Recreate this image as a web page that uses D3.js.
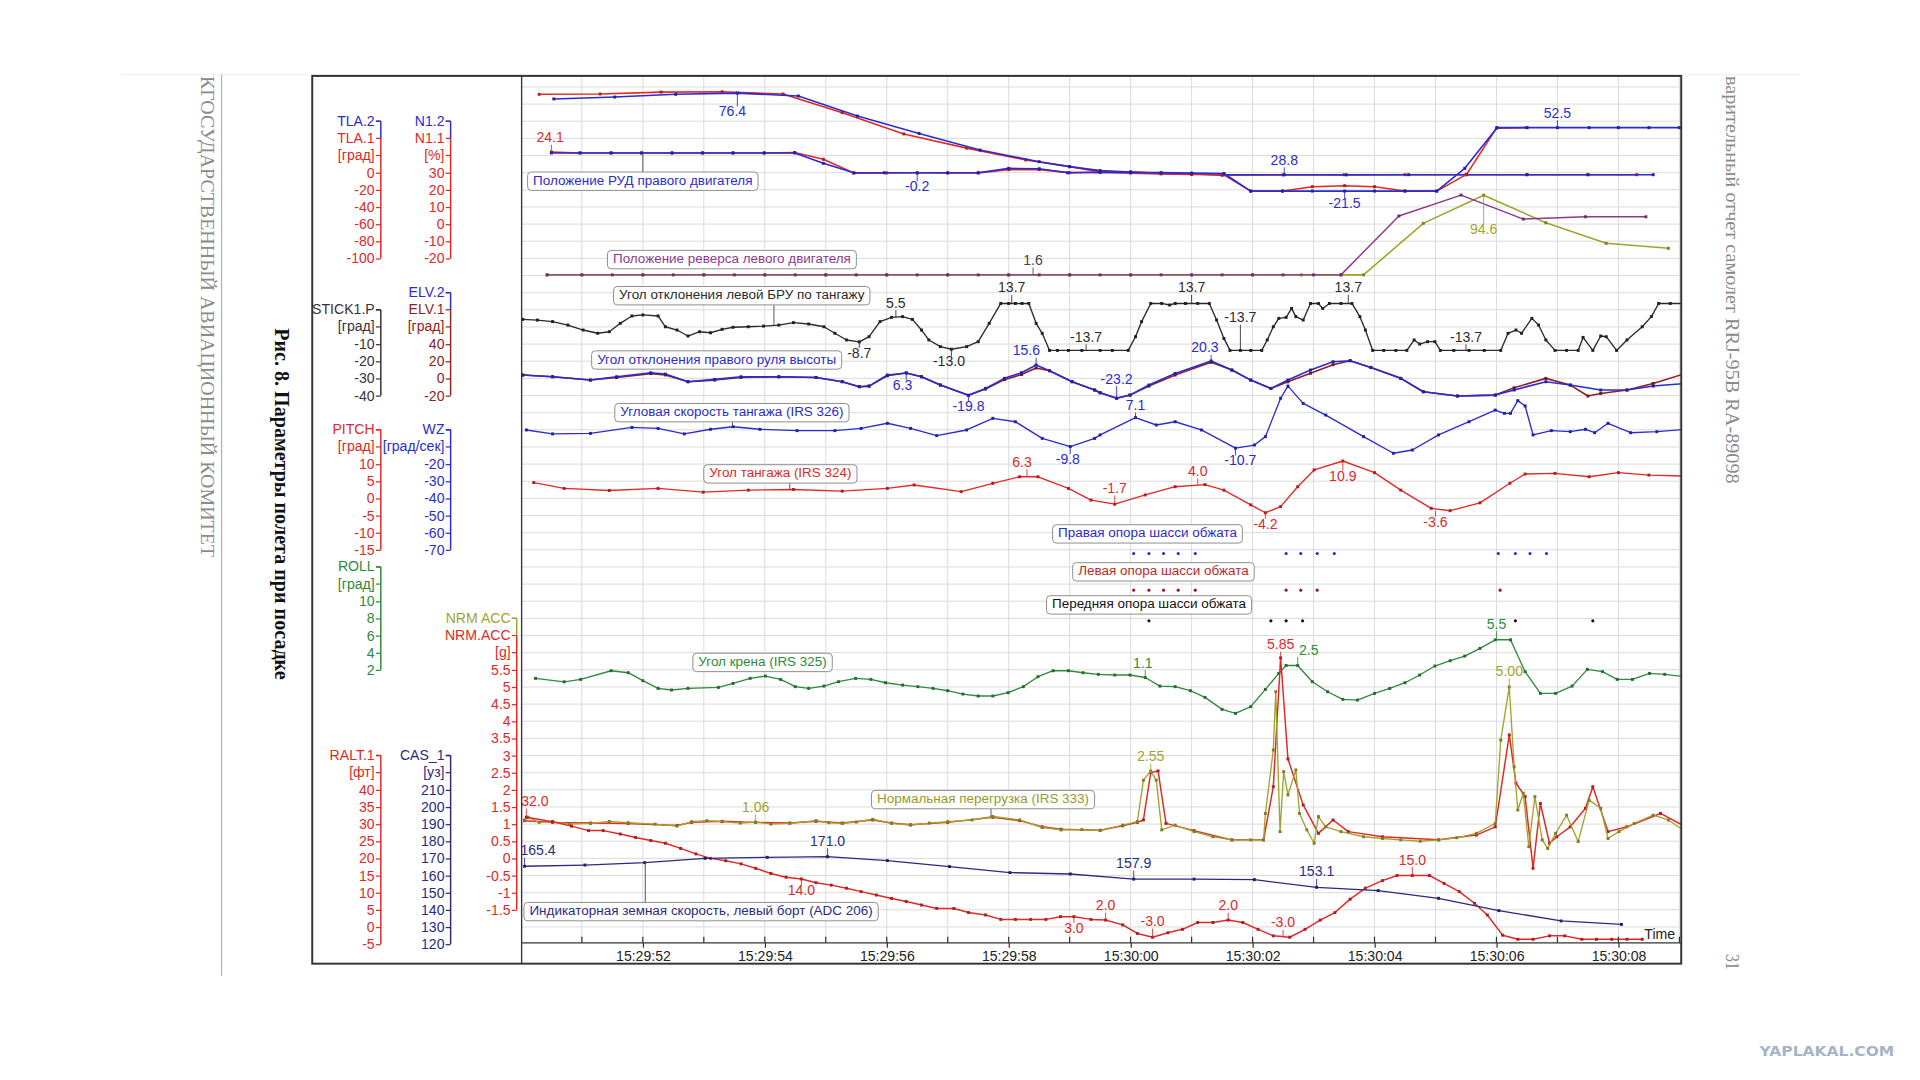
<!DOCTYPE html>
<meta charset="utf-8">
<script src="https://cdn.jsdelivr.net/npm/d3@7"></script>
<style>
  body { margin: 0; background: #fff; }
  svg { display: block; font-family: "Liberation Sans", Arial, sans-serif; }
</style>
<div id="chart"></div>
<script>
// time = seconds after 15:29:50, values in each parameter's own units
const timeLabels = ["15:29:52","15:29:54","15:29:56","15:29:58","15:30:00","15:30:02","15:30:04","15:30:06","15:30:08"];

const tlaTicks = [0,-20,-40,-60,-80,-100];
const n1Ticks = [30,20,10,0,-10,-20];
const stickTicks = [-10,-20,-30,-40];
const elvTicks = [40,20,0,-20];
const pitchTicks = [10,5,0,-5,-10,-15];
const wzTicks = [-20,-30,-40,-50,-60,-70];
const rollTicks = [10,8,6,4,2];
const nrmTicks = [5.5,5,4.5,4,3.5,3,2.5,2,1.5,1,0.5,0,-0.5,-1,-1.5];
const raltTicks = [40,35,30,25,20,15,10,5,0,-5];
const casTicks = [210,200,190,180,170,160,150,140,130,120];

const n1Left = [[0.3,75.7],[1.3,75.9],[2.3,77.0],[3.3,77.2],[4.3,75.9],[5.27,65],[6.28,52.6],[7.31,44.3],[8.28,37.4],[9.0,33.5],[9.48,30.6],[10.0,30.3],[10.5,29.6],[11.0,29.4],[11.5,28.6],[12.5,28.7],[13.5,28.8],[14.5,28.8],[15.5,28.8],[16.5,28.8],[17.5,28.8],[18.3,28.8]];
const n1Right = [[0.54,73],[1.54,74.1],[2.54,75.7],[3.55,76.4],[4.55,74.7],[5.52,63],[6.53,52.9],[7.53,43.2],[8.5,36.4],[9.0,33.5],[9.5,31.2],[10.0,30.4],[10.5,29.5],[11.0,29.2],[11.5,28.7],[12.52,28.8],[13.54,28.7],[14.56,28.8],[15.51,28.8],[16.5,28.8],[17.5,28.8],[18.57,28.8]];
const tlaLeft = [[0.5,24.1],[0.97,23],[1.48,23],[1.98,23],[2.48,23],[2.98,23],[3.48,23],[3.99,23],[4.49,23.5],[4.96,15.6],[5.46,-0.5],[6.0,-0.3],[6.5,-0.2],[7.0,-0.3],[7.5,-0.3],[8.0,3.5],[8.5,3.5],[9.0,0],[9.5,0.5],[10.0,-0.5],[10.5,-1.5],[11.0,-2],[11.53,-2.5],[11.97,-21.5],[12.49,-21.5],[12.98,-16.4],[13.51,-15.2],[14.0,-16.4],[14.5,-21.4],[15.02,-21.5],[15.51,-2],[16.0,52],[16.5,52.5]];
const tlaRight = [[0.5,23],[0.97,23],[1.48,23],[1.98,23],[2.48,23],[2.98,23],[3.48,23],[3.99,23],[4.49,23],[4.96,10.9],[5.46,-0.2],[5.96,-0.2],[6.5,-0.2],[7.0,-0.2],[7.5,-0.2],[8.0,5],[8.5,4.6],[8.97,-0.2],[9.5,0.5],[10.0,0.3],[10.5,0],[11.0,-0.5],[11.53,-1],[11.97,-21.5],[12.49,-21.5],[12.98,-21.5],[13.51,-21.5],[14.0,-21.5],[14.5,-21.5],[15.02,-21.5],[15.48,5],[16.01,52.5],[16.5,52.5],[17.0,52.5],[17.52,52.5],[18.0,52.5],[18.5,52.5],[19.0,52.5],[19.1,52.5]];
const revLeft = [[0.43,1.6],[1.0,1.6],[1.5,1.6],[2.0,1.6],[2.5,1.6],[3.0,1.6],[3.5,1.6],[4.0,1.6],[4.5,1.6],[5.0,1.6],[5.5,1.6],[6.0,1.6],[6.5,1.6],[7.0,1.6],[7.5,1.6],[8.0,1.6],[8.5,1.6],[9.0,1.6],[9.5,1.6],[10.0,1.6],[10.5,1.6],[11.0,1.6],[11.5,1.6],[12.0,1.6],[12.5,1.6],[13.0,1.6],[13.45,1.6],[14.4,70.3],[15.42,94.7],[16.44,66.7],[17.46,69.4],[18.45,69.4]];
const revRight = [[0.43,1.6],[1.0,1.6],[2.0,1.6],[3.0,1.6],[4.0,1.6],[5.0,1.6],[6.0,1.6],[7.0,1.6],[8.0,1.6],[9.0,1.6],[10.0,1.6],[11.0,1.6],[12.0,1.6],[12.8,1.6],[13.45,1.6],[13.82,1.6],[14.8,61.7],[15.79,94.6],[16.81,62.4],[17.8,38.4],[18.82,32.6]];

const stick = [[0.03,4.4],[0.27,4.0],[0.52,3.1],[0.77,1.1],[1.02,-1.8],[1.26,-3.7],[1.45,-2.8],[1.63,2.1],[1.82,6.4],[2.0,7.0],[2.25,6.4],[2.37,0.1],[2.56,-1.8],[2.74,-5.3],[2.93,-2.8],[3.11,-3.4],[3.3,-1.4],[3.48,-0.2],[3.73,0.1],[3.98,0.5],[4.23,1.1],[4.47,2.5],[4.72,1.7],[4.97,0.1],[5.15,-3.7],[5.34,-7.6],[5.55,-8.7],[5.71,-5.7],[5.89,3.1],[6.08,5.6],[6.26,6.0],[6.42,4.4],[6.57,-1.8],[6.69,-7.6],[6.88,-11.5],[7.06,-13.0],[7.31,-11.5],[7.5,-8.6],[7.68,2.1],[7.87,13.7],[8.0,13.7],[8.11,13.7],[8.22,13.7],[8.33,13.7],[8.45,2.1],[8.55,-3.7],[8.67,-13.7],[8.8,-13.7],[8.98,-13.7],[9.2,-13.7],[9.5,-13.7],[9.7,-13.7],[9.96,-13.7],[10.08,-5.7],[10.18,3.1],[10.33,13.7],[10.51,13.7],[10.64,12.8],[10.73,13.7],[10.9,13.7],[11.1,13.7],[11.29,13.7],[11.41,4.0],[11.53,-6.7],[11.63,-13.7],[11.8,-13.7],[11.97,-13.7],[12.15,-13.7],[12.24,-7.6],[12.34,0.1],[12.43,5.0],[12.55,5.6],[12.64,10.8],[12.71,6.0],[12.83,4.0],[12.95,13.7],[13.08,13.7],[13.15,10.8],[13.26,13.7],[13.45,13.7],[13.63,13.7],[13.76,6.0],[13.85,-1.8],[13.97,-13.7],[14.15,-13.7],[14.35,-13.7],[14.53,-13.7],[14.65,-7.6],[14.74,-10],[14.87,-8.6],[14.99,-8.6],[15.08,-13.7],[15.3,-13.7],[15.55,-13.7],[15.8,-13.7],[16.07,-13.7],[16.19,-3.7],[16.32,-1.8],[16.41,-3.7],[16.58,5.0],[16.69,1.1],[16.81,-7.6],[16.96,-13.7],[17.15,-13.7],[17.34,-13.7],[17.42,-6.1],[17.58,-13.7],[17.71,-5.3],[17.8,-5.7],[17.97,-13.7],[18.14,-7.6],[18.39,0.1],[18.54,6.0],[18.66,13.7],[18.85,13.7],[19.1,13.7]];
const elvRight = [[0.03,3.9],[0.52,1.9],[1.14,-2],[1.57,1.9],[2.13,6.6],[2.37,5.0],[2.74,-3.9],[3.18,-1.2],[3.61,1.9],[4.23,1.9],[4.84,1.1],[5.27,-3.9],[5.55,-9.7],[5.71,-9.0],[6.01,3.9],[6.32,6.3],[6.57,1.9],[6.88,-7.8],[7.34,-19.8],[7.62,-11.7],[7.93,0],[8.21,6.6],[8.45,15.6],[8.67,8.9],[9.04,-3.9],[9.41,-13.6],[9.5,-16.8],[9.77,-23.2],[9.99,-19.5],[10.3,-7.8],[10.73,5.8],[11.32,20.3],[11.66,9.7],[11.97,-2],[12.3,-11.7],[12.58,-2],[12.95,9.7],[13.32,19.4],[13.6,20.6],[13.94,12.8],[14.43,0],[14.8,-15.6],[15.36,-20.6],[15.98,-19.5],[16.29,-13.6],[16.81,-3.9],[17.21,-7.8],[17.71,-13.6],[18.14,-13.6],[18.57,-9.0],[19.1,-5.9]];
const elvLeft = [[0.03,3.9],[0.52,1.9],[1.14,-2],[1.57,1.0],[2.13,5.5],[2.37,4.0],[2.74,-3.9],[3.18,-2.0],[3.61,1.0],[4.23,1.9],[4.84,1.1],[5.27,-3.9],[5.55,-9.7],[5.71,-9.0],[6.01,3.0],[6.32,6.3],[6.57,1.9],[6.88,-7.8],[7.34,-19.8],[7.62,-12.5],[7.93,-1.5],[8.21,4.5],[8.45,12.0],[8.67,8.9],[9.04,-3.9],[9.41,-13.6],[9.5,-16.8],[9.77,-23.2],[9.99,-19.5],[10.3,-9],[10.73,3.9],[11.32,18.7],[11.66,9.7],[11.97,-2],[12.3,-11.7],[12.58,-4],[12.95,6],[13.32,16],[13.6,20.6],[13.94,12.8],[14.43,0],[14.8,-15.6],[15.36,-20.6],[15.98,-19.5],[16.29,-11],[16.81,0],[17.21,-7.8],[17.5,-20.6],[17.71,-17.6],[18.14,-13.6],[18.57,-5.9],[19.1,5.8]];
const wz = [[0.09,-0.1],[0.52,-2.4],[1.14,-2.1],[1.82,1.4],[2.25,0.8],[2.68,-2.4],[3.11,0.3],[3.48,1.8],[3.92,0.3],[4.53,-0.5],[5.15,-0.5],[5.58,0.8],[6.01,3.8],[6.39,0.8],[6.82,-3.4],[7.31,-0.1],[7.74,6.7],[8.11,4.7],[8.55,-5],[9.01,-9.8],[9.41,-5],[9.5,-3],[10.08,7.1],[10.42,2.8],[10.73,4.7],[11.16,-0.1],[11.72,-10.7],[12.03,-8.9],[12.21,-4],[12.46,18.4],[12.58,25.5],[12.83,15.4],[13.2,8.6],[13.82,-4],[14.31,-13.7],[14.62,-11.8],[15.05,-3],[15.55,4.7],[15.98,11.5],[16.13,9.6],[16.23,9.6],[16.35,17],[16.47,13.9],[16.6,-3],[16.9,-0.5],[17.21,-1.1],[17.46,0.3],[17.61,-1.7],[17.83,3.8],[18.2,-1.7],[18.63,-1.1],[19.1,0.3]];
const pitch = [[0.21,4.6],[0.71,2.9],[1.45,2.3],[2.25,2.9],[2.99,1.8],[3.73,2.4],[4.47,2.6],[5.27,2.1],[6.01,2.9],[6.45,3.9],[7.22,1.95],[7.74,4.4],[8.18,6.3],[8.48,6.3],[8.98,2.9],[9.35,-0.5],[9.74,-1.7],[10.24,1.0],[10.73,3.4],[11.22,4.0],[11.53,2.4],[11.97,-1.9],[12.21,-4.2],[12.46,-2.4],[12.74,3.4],[13.01,8.3],[13.48,10.9],[14.0,7.5],[14.43,2.4],[14.93,-2.9],[15.24,-3.6],[15.73,-1.3],[16.22,4.4],[16.47,7.1],[16.96,7.3],[17.52,6.3],[18.0,7.5],[18.5,6.8],[19.1,6.5]];
const roll = [[0.24,1.0],[0.71,0.6],[0.98,0.88],[1.48,1.89],[1.76,1.66],[2.0,0.73],[2.25,-0.17],[2.47,-0.36],[2.74,-0.17],[3.24,-0.05],[3.48,0.41],[3.76,1.0],[4.01,1.27],[4.26,0.88],[4.5,0.03],[4.72,-0.17],[4.97,0.1],[5.21,0.61],[5.49,1.0],[5.74,0.88],[5.98,0.49],[6.26,0.22],[6.51,0.03],[6.76,-0.17],[7.0,-0.44],[7.25,-0.83],[7.5,-1.06],[7.74,-1.06],[7.99,-0.67],[8.24,0.03],[8.48,1.19],[8.73,1.89],[8.98,1.89],[9.22,1.66],[9.47,1.47],[9.74,1.39],[9.99,1.39],[10.24,1.1],[10.48,0.1],[10.73,0.03],[10.98,-0.44],[11.22,-1.22],[11.5,-2.62],[11.72,-3.08],[11.97,-2.3],[12.21,-0.29],[12.43,1.58],[12.55,2.5],[12.74,2.5],[12.98,0.61],[13.23,-0.56],[13.48,-1.45],[13.72,-1.53],[14.0,-0.75],[14.25,-0.17],[14.5,0.49],[14.74,1.39],[14.99,2.44],[15.24,3.06],[15.48,3.6],[15.73,4.5],[15.98,5.5],[16.23,5.5],[16.47,1.78],[16.72,-0.75],[16.97,-0.75],[17.24,0.1],[17.49,2.05],[17.74,1.78],[17.98,0.88],[18.23,0.88],[18.51,1.58],[18.76,1.47],[19.1,1.19]];
const nrmOlive = [[0.06,1.12],[0.12,1.2],[0.3,1.05],[0.52,1.07],[0.8,1.0],[1.14,1.02],[1.45,1.08],[1.76,1.04],[2.2,1.0],[2.56,0.94],[2.8,1.07],[3.05,1.1],[3.3,1.07],[3.6,1.03],[3.85,1.06],[4.1,1.0],[4.41,1.02],[4.84,1.1],[5.05,1.04],[5.27,1.02],[5.5,1.06],[5.77,1.14],[6.08,1.02],[6.39,0.97],[6.7,1.03],[7.0,1.07],[7.4,1.12],[7.74,1.22],[8.18,1.12],[8.55,0.9],[8.86,0.83],[9.2,0.84],[9.5,0.81],[9.87,0.97],[10.11,1.07],[10.21,2.28],[10.33,2.55],[10.42,2.28],[10.51,0.83],[10.73,0.97],[11.04,0.78],[11.35,0.63],[11.66,0.54],[11.97,0.54],[12.18,0.54],[12.21,1.31],[12.34,3.16],[12.38,4.86],[12.45,0.78],[12.51,2.53],[12.58,1.85],[12.71,2.58],[12.77,1.31],[12.89,0.83],[13.01,0.44],[13.08,1.22],[13.2,0.92],[13.45,0.78],[13.82,0.63],[14.13,0.58],[14.43,0.54],[14.75,0.5],[15.05,0.54],[15.35,0.6],[15.67,0.73],[15.98,1.02],[16.07,3.45],[16.21,5.0],[16.29,2.67],[16.35,1.41],[16.44,1.9],[16.53,0.34],[16.63,1.8],[16.75,0.54],[16.84,0.29],[16.97,0.73],[17.15,1.26],[17.34,0.49],[17.52,1.7],[17.71,1.46],[17.83,0.58],[18.01,0.78],[18.26,1.02],[18.57,1.26],[18.82,1.12],[19.1,0.78]];
const nrmRed = [[0.06,1.1],[0.52,1.05],[1.14,1.03],[1.76,1.02],[2.56,0.96],[2.8,1.05],[3.3,1.08],[3.85,1.05],[4.41,1.03],[4.84,1.08],[5.27,1.03],[5.77,1.12],[6.08,1.03],[6.39,0.98],[7.0,1.05],[7.74,1.2],[8.18,1.1],[8.55,0.92],[8.86,0.85],[9.5,0.82],[9.87,0.95],[10.11,1.05],[10.21,1.12],[10.33,2.5],[10.45,2.55],[10.58,1.02],[11.04,0.81],[11.66,0.54],[12.18,0.54],[12.34,2.09],[12.46,5.85],[12.58,2.9],[12.83,1.56],[13.08,0.73],[13.32,1.12],[13.57,0.78],[14.13,0.63],[15.05,0.54],[15.67,0.68],[15.98,0.92],[16.21,3.6],[16.32,2.19],[16.47,1.8],[16.6,-0.29],[16.72,1.6],[16.87,0.44],[16.99,0.63],[17.21,0.92],[17.46,1.46],[17.58,2.09],[17.83,0.78],[18.14,0.92],[18.69,1.31],[19.1,0.92]];
const ralt = [[0.09,32.0],[0.52,30.7],[0.83,29.4],[1.11,28.1],[1.35,28.1],[1.63,27.1],[1.88,26.1],[2.13,25.2],[2.37,24.4],[2.62,22.9],[2.87,21.3],[3.11,20.0],[3.36,19.3],[3.61,18.4],[3.85,17.1],[4.1,15.6],[4.35,14.5],[4.6,14.0],[4.84,12.9],[5.09,12.2],[5.34,11.3],[5.58,10.3],[5.83,9.3],[6.08,8.3],[6.32,7.4],[6.57,6.4],[6.82,5.4],[7.1,5.4],[7.34,4.2],[7.62,3.5],[7.87,2.2],[8.11,2.2],[8.36,2.2],[8.61,2.2],[8.85,3.0],[9.07,3.0],[9.35,2.2],[9.59,2.0],[9.87,0.6],[10.11,-1.9],[10.36,-3.0],[10.61,-1.7],[10.85,-0.7],[11.1,1.3],[11.35,1.3],[11.6,2.0],[11.84,1.3],[12.09,-0.7],[12.34,-2.6],[12.61,-3.0],[12.86,-0.7],[13.11,2.0],[13.35,4.2],[13.6,8.1],[13.85,11.3],[14.13,13.5],[14.37,15.0],[14.62,15.0],[14.9,15.0],[15.14,12.7],[15.39,10.3],[15.64,6.9],[15.85,3.5],[16.1,-2.4],[16.35,-3.6],[16.6,-3.6],[16.87,-2.6],[17.12,-2.6],[17.4,-3.6],[17.64,-3.6],[17.89,-3.6],[18.14,-3.6],[18.39,-3.6]];
const cas = [[0.06,165.4],[1.05,166.1],[2.03,167.5],[3.02,170.0],[4.04,170.6],[5.03,171.0],[6.01,168.7],[7.03,165.2],[8.02,161.7],[9.01,160.9],[10.05,157.9],[11.04,157.9],[12.03,157.6],[13.05,153.1],[14.06,151.2],[15.05,146.7],[16.04,139.5],[17.06,133.5],[18.05,131.5]];

const gearRight = [10.05,10.30,10.54,10.78,11.06,12.55,12.79,13.06,13.34,16.03,16.31,16.55,16.82];
const gearLeft = [10.05,10.30,10.54,10.78,11.06,12.55,12.79,13.06,16.06];
const gearNose = [10.3,12.3,12.55,12.82,16.31,17.58];

// colours
const RED = "#e02828", BLUE = "#2b2bd0", NAVY = "#2a2a82", GREEN = "#2f8a3a",
      OLIVE = "#a3a32c", PURPLE = "#8a3a8e", DARK = "#2a2a2a", BROWN = "#8e2222";

// value labels on the traces: text, scale, time, value, offsets, colour
const valueLabels = [
  ["76.4","n1",3.55,76.4,-4,16,BLUE], ["24.1","tla",0.5,24.1,-1,-11,RED],
  ["-0.2","tla",6.5,-0.2,0,12,BLUE], ["28.8","n1",12.52,28.8,0,-11,BLUE],
  ["-21.5","tla",13.51,-21.5,0,11,BLUE], ["52.5","tla",17.0,52.5,0,-11,BLUE],
  ["94.6","rev",15.79,94.6,0,29,OLIVE], ["1.6","rev",8.4,1.6,0,-11,"#444"],
  ["5.5","stick",6.15,5.5,0,-11,DARK], ["13.7","stick",8.05,13.7,0,-12,DARK],
  ["13.7","stick",11.0,13.7,0,-12,DARK], ["13.7","stick",13.57,13.7,0,-12,DARK],
  ["-8.7","stick",5.55,-8.7,0,10,DARK], ["-13.0","stick",7.06,-13.0,-2,11,DARK],
  ["-13.7","stick",9.27,-13.7,0,-10,DARK], ["-13.7","stick",11.8,-13.7,0,-26,DARK],
  ["-13.7","stick",15.5,-13.7,0,-10,DARK],
  ["6.3","elv",6.32,6.3,-3,11,BLUE], ["15.6","elv",8.45,15.6,-8,-11,BLUE],
  ["-19.8","elv",7.34,-19.8,0,10,BLUE], ["-23.2","elv",9.77,-23.2,0,-15,BLUE],
  ["20.3","elv",11.32,20.3,-5,-10,BLUE],
  ["-9.8","wz",9.01,-9.8,-2,11,BLUE], ["7.1","wz",10.08,7.1,0,-9,BLUE],
  ["-10.7","wz",11.72,-10.7,4,11,BLUE],
  ["6.3","pitch",8.3,6.3,-4,-11,RED], ["-1.7","pitch",9.74,-1.7,0,-12,RED],
  ["4.0","pitch",11.1,4.0,0,-10,RED], ["-4.2","pitch",12.21,-4.2,0,10,RED],
  ["10.9","pitch",13.48,10.9,0,13,RED], ["-3.6","pitch",15.0,-3.6,0,10,RED],
  ["1.1","roll",10.24,1.1,-2,-11,GREEN], ["2.5","roll",12.74,2.5,9,-12,GREEN],
  ["5.5","roll",16.0,5.5,0,-12,GREEN],
  ["1.06","nrm",3.85,1.06,0,-11,OLIVE], ["2.55","nrm",10.33,2.55,0,-11,OLIVE],
  ["5.85","nrm",12.46,5.85,0,-10,RED], ["5.00","nrm",16.21,5.0,0,-12,OLIVE],
  ["32.0","ralt",0.09,32.0,7,-12,RED], ["14.0","ralt",4.6,14.0,0,10,RED],
  ["3.0","ralt",9.07,3.0,0,10,RED], ["2.0","ralt",9.59,2.0,0,-11,RED],
  ["-3.0","ralt",10.36,-3.0,0,-12,RED], ["2.0","ralt",11.6,2.0,0,-11,RED],
  ["-3.0","ralt",12.5,-3.0,0,-11,RED], ["15.0","ralt",14.62,15.0,0,-12,RED],
  ["165.4","cas",0.06,165.4,11,-12,NAVY], ["171.0","cas",5.03,171.0,0,-12,NAVY],
  ["157.9","cas",10.05,157.9,0,-12,NAVY], ["153.1","cas",13.05,153.1,0,-12,NAVY]
];

// boxed captions: text, left time, centre y, colour, leader [time, scale, value]
const captions = [
  ["Положение РУД правого двигателя", 0.11, 148, BLUE, [2.0,"tla",23]],
  ["Положение реверса левого двигателя", 1.42, 212, PURPLE, null],
  ["Угол отклонения левой БРУ по тангажу", 1.52, 241.5, DARK, [4.15,"stick",0.9]],
  ["Угол отклонения правого руля высоты", 1.16, 294, BLUE, null],
  ["Угловая скорость тангажа (IRS 326)", 1.54, 337, BLUE, [3.47,"wz",1.8]],
  ["Угол тангажа (IRS 324)", 3.0, 387, RED, [4.41,"pitch",2.6]],
  ["Правая опора шасси обжата", 8.72, 436, BLUE, null],
  ["Левая опора шасси обжата", 9.05, 467, "#b82a2a", null],
  ["Передняя опора шасси обжата", 8.62, 494, "#111", null],
  ["Угол крена (IRS 325)", 2.82, 541, GREEN, null],
  ["Нормальная перегрузка (IRS 333)", 5.75, 653, "#999a2a", [7.71,"nrm",1.22]],
  ["Индикаторная земная скорость, левый борт (ADC 206)", 0.05, 744.5, NAVY, [2.04,"cas",167.5]]
];

// ---------------------------------------------------------------
const svg = d3.select("#chart").append("svg")
  .attr("width", 1920).attr("height", 1080)
  .attr("viewBox", "0 0 1568 882");

const parseT = d3.timeParse("%H:%M:%S");
const base = parseT("15:29:50");
const at = t => new Date(base.getTime() + t * 1000);
const x = d3.scaleTime().domain([at(0), at(19.03)]).range([425.4, 1373]);
const X = t => x(at(t));

const Y = {
  tla: d3.scaleLinear().domain([-100, 0]).range([211, 141]),
  n1: d3.scaleLinear().domain([-20, 30]).range([211, 141]),
  rev: d3.scaleLinear().domain([0, 100]).range([225.6, 155.6]),
  stick: d3.scaleLinear().domain([-40, -10]).range([323, 281]),
  elv: d3.scaleLinear().domain([-20, 40]).range([323, 281]),
  pitch: d3.scaleLinear().domain([-15, 10]).range([449, 379]),
  wz: d3.scaleLinear().domain([-70, -20]).range([449, 379]),
  roll: d3.scaleLinear().domain([2, 10]).range([547, 491]),
  nrm: d3.scaleLinear().domain([-1.5, 5.5]).range([743, 547]),
  ralt: d3.scaleLinear().domain([-5, 40]).range([771, 645]),
  cas: d3.scaleLinear().domain([120, 210]).range([771, 645])
};
const gearY = d3.scaleOrdinal().domain(["right","left","nose"]).range([452, 482, 507]);

const plot = {left: 426, right: 1373, top: 62, axis: 770, bottom: 787};

// page decoration (scanned report page)
svg.append("line").attr("x1", 181).attr("x2", 181).attr("y1", 60).attr("y2", 797)
  .attr("stroke", "#a0a0a0").attr("stroke-width", 0.8);
svg.append("line").attr("x1", 100).attr("x2", 1470).attr("y1", 61).attr("y2", 61)
  .attr("stroke", "#eeeeee").attr("stroke-width", 0.8);
function vtext(s, xx, yy, len, size, opts) {
  const t = svg.append("text")
    .attr("transform", `translate(${xx},${yy}) rotate(90)`)
    .style("font-family", '"Liberation Serif", "DejaVu Serif", serif')
    .attr("font-size", size).attr("fill", opts.fill)
    .attr("font-weight", opts.bold ? "bold" : "normal")
    .attr("dominant-baseline", "middle").text(s);
  if (len) t.attr("textLength", len).attr("lengthAdjust", "spacingAndGlyphs");
}
vtext("КГОСУДАРСТВЕННЫЙ АВИАЦИОННЫЙ КОМИТЕТ", 168, 62, 393, 15, {fill: "#8a8a8a"});
vtext("Рис. 8. Параметры полета при посадке", 228, 268, 287, 16.5, {fill: "#111", bold: true});
vtext("варительный отчет самолет RRJ-95B RA-89098", 1413, 62, 333, 15, {fill: "#8a8a8a"});
vtext("31", 1413, 779, 13, 15, {fill: "#8a8a8a"});
svg.append("text").attr("x", 1437).attr("y", 862)
  .style("font-family", '"DejaVu Sans", sans-serif').attr("font-weight", "bold")
  .attr("font-size", 11.5).attr("fill", "#a7b3c7")
  .attr("textLength", 110).attr("lengthAdjust", "spacingAndGlyphs")
  .text("YAPLAKAL.COM");

// grid
const grid = svg.append("g").attr("stroke", "#dadada").attr("stroke-width", 0.8);
grid.selectAll("line.h").data(d3.range(-2, 22.51, 0.5)).join("line").attr("class", "h")
  .attr("x1", plot.left).attr("x2", plot.right)
  .attr("y1", d => Y.nrm(d)).attr("y2", d => Y.nrm(d));
grid.selectAll("line.v").data(x.ticks(d3.timeSecond.every(1)).filter(d => d > base)).join("line")
  .attr("class", "v")
  .attr("x1", d => x(d)).attr("x2", d => x(d))
  .attr("y1", plot.top).attr("y2", plot.axis);

// clip for traces
svg.append("clipPath").attr("id", "clip").append("rect")
  .attr("x", plot.left).attr("y", plot.top)
  .attr("width", plot.right - plot.left).attr("height", plot.axis - plot.top);
const traces = svg.append("g").attr("clip-path", "url(#clip)");

function trace(data, key, color, width) {
  const s = Y[key];
  const line = d3.line().x(d => X(d[0])).y(d => s(d[1]));
  traces.append("path").datum(data).attr("d", line)
    .attr("fill", "none").attr("stroke", color).attr("stroke-width", width || 1.2)
    .attr("stroke-linejoin", "round");
  const mc = d3.color(color).darker(0.7);
  traces.append("g").selectAll("rect").data(data).join("rect")
    .attr("x", d => X(d[0]) - 1.2).attr("y", d => s(d[1]) - 1.2)
    .attr("width", 2.4).attr("height", 2.4).attr("fill", mc);
}

trace(revRight, "rev", OLIVE, 1.3);
trace(revLeft, "rev", PURPLE, 1.2);
trace(n1Left, "n1", RED, 1.3);
trace(n1Right, "n1", BLUE, 1.3);
trace(tlaLeft, "tla", RED, 1.3);
trace(tlaRight, "tla", BLUE, 1.3);
trace(stick, "stick", DARK, 1.1);
trace(elvLeft, "elv", BROWN, 1.3);
trace(elvRight, "elv", BLUE, 1.3);
trace(wz, "wz", BLUE, 1.1);
trace(pitch, "pitch", RED, 1.1);
trace(roll, "roll", GREEN, 1.1);
trace(nrmRed, "nrm", RED, 1.2);
trace(nrmOlive, "nrm", OLIVE, 1.1);
trace(ralt, "ralt", RED, 1.2);
trace(cas, "cas", NAVY, 1.1);

// gear squat switches
[[gearRight, "right", BLUE], [gearLeft, "left", BROWN], [gearNose, "nose", "#111"]].forEach(([ts, g, c]) => {
  traces.append("g").selectAll("circle").data(ts).join("circle")
    .attr("cx", d => X(d)).attr("cy", gearY(g)).attr("r", 1.3).attr("fill", c);
});

// value labels
const vl = svg.append("g").attr("font-size", 11.5);
valueLabels.forEach(([s, k, t, v, dx, dy, c]) => {
  const px = X(t), py = Y[k](v);
  const sign = dy < 0 ? -1 : 1;
  vl.append("line").attr("x1", px).attr("x2", px)
    .attr("y1", py).attr("y2", py + dy - sign * 5)
    .attr("stroke", c).attr("stroke-width", 0.7);
  vl.append("text").attr("x", px + dx).attr("y", py + dy)
    .attr("text-anchor", "middle").attr("dominant-baseline", "middle")
    .attr("fill", c).text(s);
});

// captions in rounded boxes
const cg = svg.append("g").attr("font-size", 11);
captions.forEach(([s, t, cy, c, lead]) => {
  const left = X(t);
  const g = cg.append("g");
  const txt = g.append("text").attr("x", left + 4.5).attr("y", cy)
    .attr("dominant-baseline", "middle").attr("fill", c).text(s);
  const w = txt.node().getComputedTextLength() + 9;
  if (lead) {
    const lx = X(lead[0]), ly = Y[lead[1]](lead[2]);
    const edge = ly < cy ? cy - 7.5 : cy + 7.5;
    g.insert("line", "text").attr("x1", lx).attr("x2", lx).attr("y1", edge).attr("y2", ly)
      .attr("stroke", "#555").attr("stroke-width", 0.8);
  }
  g.insert("rect", "text").attr("x", left).attr("y", cy - 7.5)
    .attr("width", w).attr("height", 15).attr("rx", 3)
    .attr("fill", "#fff").attr("stroke", "#8c8c8c").attr("stroke-width", 0.8);
});

// left parameter axes
function paramAxis(ax, key, ticks, heads, color) {
  const s = Y[key];
  const g = svg.append("g").attr("transform", `translate(${ax},0)`);
  g.call(d3.axisLeft(s).tickValues(ticks).tickSize(4).tickSizeOuter(0).tickFormat(d => String(d)));
  g.select(".domain").remove();
  g.attr("font-family", null).attr("font-size", null);
  g.selectAll(".tick line").attr("stroke", color);
  g.selectAll(".tick text").attr("fill", color).attr("font-size", 11.5).attr("x", -5);
  const y0 = s(ticks[0]);
  const top = y0 - 14 * heads.length;
  heads.forEach(([label, c], i) => {
    const yy = top + 14 * i;
    g.append("line").attr("x1", -4).attr("x2", 0).attr("y1", yy).attr("y2", yy).attr("stroke", color);
    g.append("text").attr("x", -5).attr("y", yy).attr("dy", "0.32em")
      .attr("text-anchor", "end").attr("font-size", 11.5).attr("fill", c).text(label);
  });
  const y1 = s(ticks[ticks.length - 1]);
  const firstC = heads[0][1];
  g.append("line").attr("x1", 0).attr("x2", 0).attr("y1", top).attr("y2", top + 14)
    .attr("stroke", firstC).attr("stroke-width", 1.2);
  g.append("line").attr("x1", 0).attr("x2", 0).attr("y1", top + 14).attr("y2", y1)
    .attr("stroke", color).attr("stroke-width", 1.2);
  g.append("line").attr("x1", -4).attr("x2", 0).attr("y1", top).attr("y2", top)
    .attr("stroke", firstC).attr("stroke-width", 1.2);
}
paramAxis(311, "tla", tlaTicks, [["TLA.2", BLUE], ["TLA.1", RED], ["[град]", RED]], RED);
paramAxis(368, "n1", n1Ticks, [["N1.2", BLUE], ["N1.1", RED], ["[%]", RED]], RED);
paramAxis(311, "stick", stickTicks, [["STICK1.P", "#3a2f3a"], ["[град]", "#3a2f3a"]], "#3a2f3a");
paramAxis(368, "elv", elvTicks, [["ELV.2", BLUE], ["ELV.1", BROWN], ["[град]", BROWN]], BROWN);
paramAxis(311, "pitch", pitchTicks, [["PITCH", RED], ["[град]", RED]], RED);
paramAxis(368, "wz", wzTicks, [["WZ", BLUE], ["[град/сек]", BLUE]], BLUE);
paramAxis(311, "roll", rollTicks, [["ROLL", GREEN], ["[град]", GREEN]], GREEN);
paramAxis(422, "nrm", nrmTicks, [["NRM ACC", OLIVE], ["NRM.ACC", RED], ["[g]", RED]], RED);
paramAxis(311, "ralt", raltTicks, [["RALT.1", RED], ["[фт]", RED]], RED);
paramAxis(368, "cas", casTicks, [["CAS_1", NAVY], ["[уз]", NAVY]], NAVY);

// time axis
const tg = svg.append("g").attr("transform", `translate(0,${plot.axis})`);
tg.call(d3.axisBottom(x).tickValues(timeLabels.map(parseT)).tickSize(4).tickPadding(3)
  .tickFormat(d3.timeFormat("%H:%M:%S")));
tg.select(".domain").remove();
tg.attr("font-family", null).attr("font-size", null);
tg.selectAll(".tick text").attr("font-size", 11.5).attr("fill", "#222");
tg.selectAll(".tick line").attr("stroke", "#333");
tg.selectAll("line.minor").data(x.ticks(d3.timeSecond.every(1)).filter(d => d > base)).join("line")
  .attr("class", "minor").attr("x1", d => x(d)).attr("x2", d => x(d))
  .attr("y1", 0).attr("y2", -5).attr("stroke", "#333");
svg.append("text").attr("x", 1368).attr("y", 764).attr("text-anchor", "end")
  .attr("dominant-baseline", "middle").attr("font-size", 11.5).attr("fill", "#222").text("Time");

// frame
const fr = svg.append("g").attr("fill", "none").attr("stroke", "#333");
fr.append("rect").attr("x", 255).attr("y", plot.top).attr("width", plot.right - 255)
  .attr("height", plot.bottom - plot.top).attr("stroke-width", 1.6);
fr.append("line").attr("x1", plot.left).attr("x2", plot.left).attr("y1", plot.top).attr("y2", plot.bottom)
  .attr("stroke-width", 1.1);
fr.append("line").attr("x1", plot.left).attr("x2", plot.right).attr("y1", plot.axis).attr("y2", plot.axis)
  .attr("stroke-width", 1.1);
</script>
